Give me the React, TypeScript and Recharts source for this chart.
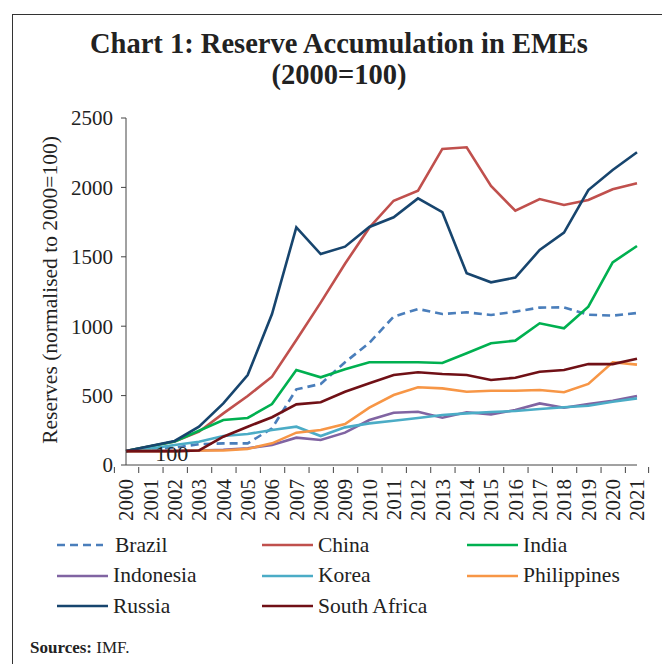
import { LineChart, Line, XAxis, YAxis, LabelList } from "recharts";

const years = [
  "2000", "2001", "2002", "2003", "2004", "2005", "2006", "2007", "2008", "2009", "2010",
  "2011", "2012", "2013", "2014", "2015", "2016", "2017", "2018", "2019", "2020", "2021",
];

const brazil = [100, 110, 125, 150, 156, 156, 264, 545, 584, 740, 880, 1069, 1124, 1088, 1100, 1081, 1105, 1134, 1136, 1083, 1076, 1095];
const china = [100, 135, 170, 240, 372, 497, 636, 900, 1170, 1450, 1710, 1904, 1976, 2277, 2289, 2010, 1832, 1916, 1873, 1909, 1986, 2030];
const india = [100, 135, 170, 247, 324, 339, 439, 684, 632, 690, 740, 740, 740, 735, 805, 877, 896, 1021, 985, 1141, 1460, 1578];
const indonesia = [100, 100, 100, 105, 110, 121, 144, 197, 180, 233, 324, 377, 384, 341, 380, 365, 396, 444, 413, 439, 463, 497];
const korea = [100, 118, 144, 168, 209, 223, 252, 276, 209, 271, 300, 319, 339, 360, 372, 382, 389, 403, 416, 427, 456, 480];
const philippines = [100, 100, 100, 105, 105, 116, 156, 233, 252, 295, 413, 504, 560, 552, 528, 535, 535, 540, 524, 584, 740, 723];
const russia = [100, 137, 173, 276, 444, 648, 1088, 1712, 1520, 1573, 1715, 1785, 1921, 1821, 1381, 1316, 1350, 1549, 1674, 1981, 2125, 2253];
const southAfrica = [100, 100, 100, 105, 204, 276, 344, 437, 452, 528, 589, 648, 668, 656, 648, 612, 629, 672, 684, 727, 727, 766];

const yTicks = [0, 500, 1000, 1500, 2000, 2500];

const series = [
  { name: "Brazil", values: brazil, color: "#4a7ebb", dash: "8 5" },
  { name: "China", values: china, color: "#c0504d" },
  { name: "India", values: india, color: "#00b050" },
  { name: "Indonesia", values: indonesia, color: "#8064a2" },
  { name: "Korea", values: korea, color: "#4bacc6" },
  { name: "Philippines", values: philippines, color: "#f79646" },
  { name: "Russia", values: russia, color: "#17456e" },
  { name: "South Africa", values: southAfrica, color: "#701016" },
];

const data = years.map((year, i) => {
  const row: Record<string, string | number> = { year };
  series.forEach((s) => (row[s.name] = s.values[i]));
  return row;
});

const FONT = "'Liberation Serif', 'Times New Roman', serif";
const PLOT_W = 511;
const HALF = PLOT_W / years.length / 2;

function XTick(props: any) {
  const { x, y, payload, index } = props;
  return (
    <g>
      <line x1={x - HALF} x2={x - HALF} y1={y} y2={y + 6} stroke="#444" />
      {index === years.length - 1 && (
        <line x1={x + HALF} x2={x + HALF} y1={y} y2={y + 6} stroke="#444" />
      )}
      <text
        transform={`translate(${x},${y + 12}) rotate(-90)`}
        textAnchor="end"
        dy="0.35em"
        fontSize={21}
        fill="#222"
        fontFamily={FONT}
      >
        {payload.value}
      </text>
    </g>
  );
}

// the "100" base label sits just right of the 2001 point
function BaseLabel(props: any) {
  const { x, y, index } = props;
  if (index !== 1) return null;
  return (
    <text x={x + 5} y={y + 10} fontSize={22} fill="#222" fontFamily={FONT}>
      100
    </text>
  );
}

export default function App() {
  return (
    <div style={{ position: "relative", width: 662, height: 664, overflow: "hidden", background: "#fff", fontFamily: FONT }}>
      <style>{"body{margin:0}"}</style>
      <div
        style={{
          position: "absolute",
          left: 12,
          top: 14,
          width: 650,
          height: 650,
          borderTop: "1.5px solid #333",
          borderLeft: "1.5px solid #333",
          boxSizing: "border-box",
        }}
      />
      <div
        style={{
          position: "absolute",
          left: 12,
          top: 28,
          width: 654,
          textAlign: "center",
          fontWeight: "bold",
          fontSize: 28.5,
          lineHeight: "31px",
          color: "#222",
        }}
      >
        Chart 1: Reserve Accumulation in EMEs
        <br />
        (2000=100)
      </div>
      <div
        style={{
          position: "absolute",
          left: 50,
          top: 290,
          transform: "translate(-50%, -50%) rotate(-90deg)",
          whiteSpace: "nowrap",
          fontSize: 21.5,
          color: "#222",
        }}
      >
        Reserves (normalised to 2000=100)
      </div>
      <div style={{ position: "absolute", left: 0, top: 0 }}>
        <LineChart
          width={662}
          height={545}
          data={data}
          margin={{ top: 118, right: 25, left: 66, bottom: 0 }}
        >
          <XAxis
            dataKey="year"
            interval={0}
            height={80}
            tickLine={false}
            tickSize={0}
            tick={<XTick />}
            axisLine={{ stroke: "#444" }}
          />
          <YAxis
            width={60}
            domain={[0, 2500]}
            ticks={yTicks}
            tickSize={5}
            tickMargin={8}
            tickLine={{ stroke: "#444" }}
            axisLine={{ stroke: "#444" }}
            tick={{ fontSize: 21, fill: "#222", fontFamily: FONT }}
          />
          {series.map((s) => (
            <Line
              key={s.name}
              dataKey={s.name}
              stroke={s.color}
              strokeWidth={2.6}
              strokeDasharray={s.dash}
              dot={false}
              isAnimationActive={false}
            >
              {s.name === "South Africa" && <LabelList dataKey={s.name} content={<BaseLabel />} />}
            </Line>
          ))}
        </LineChart>
      </div>
      {series.map((s, i) => {
        const col = i % 3;
        const row = Math.floor(i / 3);
        return (
          <div
            key={s.name}
            style={{
              position: "absolute",
              left: 57 + col * 205,
              top: 545 + row * 30.5 - 13,
              height: 26,
              display: "flex",
              alignItems: "center",
              fontSize: 21.5,
              color: "#222",
              whiteSpace: "nowrap",
            }}
          >
            <svg width={51} height={6} style={{ marginRight: s.dash ? 7 : 5 }}>
              <line
                x1={0}
                x2={s.dash ? 46 : 51}
                y1={3}
                y2={3}
                stroke={s.color}
                strokeWidth={2.6}
                strokeDasharray={s.dash}
              />
            </svg>
            {s.name}
          </div>
        );
      })}
      <div style={{ position: "absolute", left: 30, top: 638, fontSize: 17, color: "#222" }}>
        <b>Sources:</b> IMF.
      </div>
    </div>
  );
}
